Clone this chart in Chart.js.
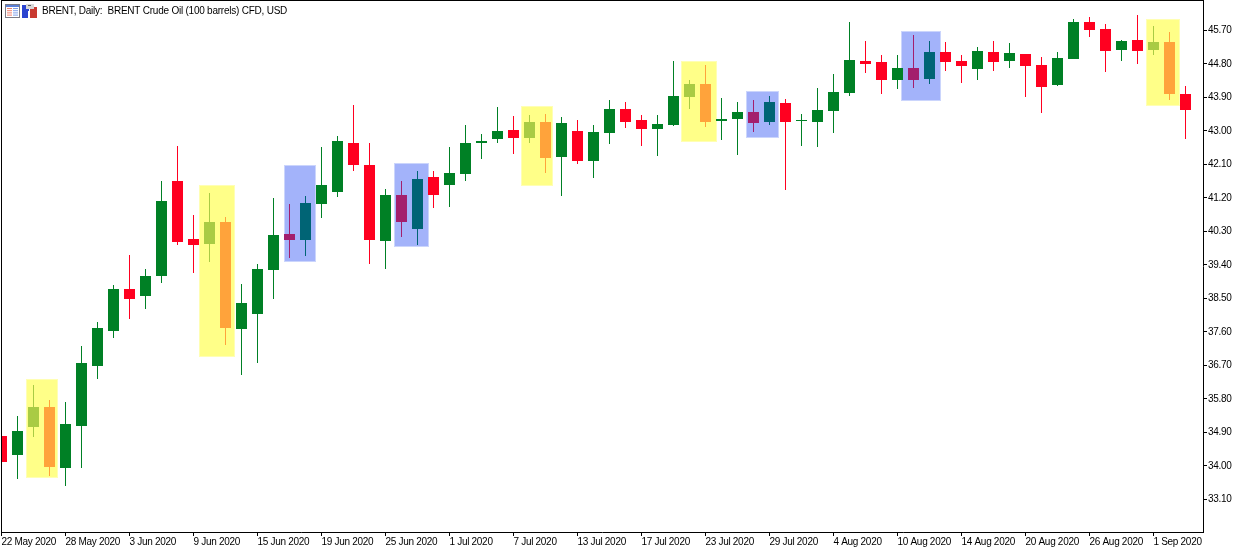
<!DOCTYPE html>
<html>
<head>
<meta charset="utf-8">
<title>BRENT Daily</title>
<script src="https://cdn.jsdelivr.net/npm/chart.js@4/dist/chart.umd.min.js"></script>
<style>
  html, body { margin: 0; padding: 0; background: #fff; }
  #wrap { width: 1236px; height: 549px; }
</style>
</head>
<body>
<div id="wrap"><canvas id="chart" width="1236" height="549"></canvas></div>
<script>
const TITLE = 'BRENT, Daily:  BRENT Crude Oil (100 barrels) CFD, USD';
const FONT = 'Liberation Sans';

const dates = [
  '22 May 2020', '25 May 2020', '26 May 2020', '27 May 2020', '28 May 2020', '29 May 2020',
  '1 Jun 2020', '2 Jun 2020', '3 Jun 2020', '4 Jun 2020', '5 Jun 2020',
  '8 Jun 2020', '9 Jun 2020', '10 Jun 2020', '11 Jun 2020', '12 Jun 2020',
  '15 Jun 2020', '16 Jun 2020', '17 Jun 2020', '18 Jun 2020', '19 Jun 2020',
  '22 Jun 2020', '23 Jun 2020', '24 Jun 2020', '25 Jun 2020', '26 Jun 2020',
  '29 Jun 2020', '30 Jun 2020', '1 Jul 2020', '2 Jul 2020', '3 Jul 2020',
  '6 Jul 2020', '7 Jul 2020', '8 Jul 2020', '9 Jul 2020', '10 Jul 2020',
  '13 Jul 2020', '14 Jul 2020', '15 Jul 2020', '16 Jul 2020', '17 Jul 2020',
  '20 Jul 2020', '21 Jul 2020', '22 Jul 2020', '23 Jul 2020', '24 Jul 2020',
  '27 Jul 2020', '28 Jul 2020', '29 Jul 2020', '30 Jul 2020', '31 Jul 2020',
  '3 Aug 2020', '4 Aug 2020', '5 Aug 2020', '6 Aug 2020', '7 Aug 2020',
  '10 Aug 2020', '11 Aug 2020', '12 Aug 2020', '13 Aug 2020', '14 Aug 2020',
  '17 Aug 2020', '18 Aug 2020', '19 Aug 2020', '20 Aug 2020', '21 Aug 2020',
  '24 Aug 2020', '25 Aug 2020', '26 Aug 2020', '27 Aug 2020', '28 Aug 2020',
  '31 Aug 2020', '1 Sep 2020', '2 Sep 2020', '3 Sep 2020'
];

const opens = [
  34.81, 34.30, 35.05, 35.58, 33.95, 35.07, 36.69, 37.63, 38.75, 38.57,
  39.10, 41.66, 40.10, 39.96, 40.56, 37.68, 38.08, 39.27, 40.23, 40.07,
  41.04, 41.36, 42.68, 42.09, 40.04, 41.28, 40.37, 41.76, 41.55, 41.84,
  42.68, 42.78, 43.03, 42.81, 43.24, 42.30, 43.00, 42.19, 42.95, 43.59,
  43.30, 43.05, 43.16, 43.91, 44.26, 43.27, 43.32, 43.51, 43.24, 43.75,
  43.27, 43.24, 43.54, 44.02, 44.88, 44.85, 44.37, 44.69, 44.40, 45.12,
  44.88, 44.67, 45.12, 44.88, 45.07, 44.77, 44.24, 44.93, 45.93, 45.74,
  45.18, 45.44, 45.18, 45.39, 43.99
];
const highs = [
  34.97, 35.34, 36.18, 35.77, 35.72, 37.22, 37.87, 38.86, 39.67, 39.29,
  41.66, 42.60, 40.74, 41.33, 40.69, 38.89, 39.43, 41.20, 41.04, 41.25,
  42.57, 42.87, 43.70, 42.68, 41.44, 41.66, 41.93, 41.93, 42.57, 43.16,
  42.92, 43.64, 43.40, 43.43, 43.46, 43.38, 43.30, 43.16, 43.83, 43.78,
  43.43, 43.43, 44.88, 44.37, 44.77, 43.89, 43.78, 43.83, 43.94, 43.86,
  43.46, 44.15, 44.53, 45.93, 45.42, 45.04, 45.04, 45.58, 45.42, 45.39,
  45.04, 45.26, 45.42, 45.36, 45.07, 44.99, 45.12, 46.01, 46.06, 45.87,
  45.44, 46.12, 45.82, 45.66, 44.21
];
const lows = [
  33.89, 33.65, 34.78, 33.73, 33.46, 33.95, 36.34, 37.44, 37.95, 38.22,
  38.92, 39.94, 39.18, 39.48, 37.25, 36.44, 36.77, 38.49, 39.59, 39.64,
  40.66, 41.23, 41.93, 39.43, 39.29, 40.15, 39.94, 40.93, 40.96, 41.66,
  42.25, 42.68, 42.38, 42.68, 41.87, 41.25, 42.11, 41.74, 42.65, 43.08,
  42.60, 42.33, 43.13, 43.59, 43.11, 42.76, 42.35, 42.97, 43.16, 41.41,
  42.60, 42.57, 42.95, 43.94, 44.56, 43.99, 44.13, 44.15, 44.26, 44.61,
  44.29, 44.37, 44.61, 44.69, 43.91, 43.48, 44.21, 44.93, 45.52, 44.58,
  44.88, 44.80, 45.04, 43.83, 42.78
];
const closes = [
  34.11, 34.94, 35.58, 33.97, 35.13, 36.77, 37.71, 38.75, 38.49, 39.10,
  41.12, 40.02, 39.94, 40.56, 37.71, 38.38, 39.29, 40.21, 40.07, 41.07,
  41.55, 42.73, 42.09, 40.07, 41.28, 40.56, 41.71, 41.28, 41.87, 42.68,
  42.73, 43.00, 42.81, 43.24, 42.27, 43.21, 42.19, 42.97, 43.59, 43.24,
  43.05, 43.19, 43.94, 44.26, 43.24, 43.32, 43.51, 43.21, 43.78, 43.24,
  43.30, 43.56, 44.05, 44.91, 44.80, 44.37, 44.69, 44.37, 45.12, 44.85,
  44.75, 45.15, 44.85, 45.10, 44.75, 44.18, 44.96, 45.93, 45.71, 45.15,
  45.42, 45.15, 45.39, 43.99, 43.56
];

const priceTicks = [33.10, 34.00, 34.90, 35.80, 36.70, 37.60, 38.50, 39.40, 40.30, 41.20, 42.10, 43.00, 43.90, 44.80, 45.70];

// marked patterns, x in bar units and y in price
const zoneKinds   = ['y', 'y', 'b', 'b', 'y', 'y', 'b', 'b', 'y'];
const zoneStarts  = [1.53, 12.34, 17.66, 24.53, 32.47, 42.47, 46.53, 56.22, 71.53];
const zoneEnds    = [3.53, 14.6, 19.66, 26.72, 34.47, 44.72, 48.59, 58.72, 73.66];
const zoneTops    = [36.34, 41.55, 42.09, 42.14, 43.67, 44.88, 44.07, 45.69, 46.01];
const zoneBottoms = [33.68, 36.93, 39.48, 39.88, 41.52, 42.70, 42.81, 43.81, 43.67];

const UP = '#008025', DOWN = '#ff0020';
const ZONE = {
  y: { fill: '#ffff88', edge: '#ffffb4', up: '#a9cb44', down: '#ffa33b' },
  b: { fill: '#a3b3fa', edge: '#cbd5fc', up: '#006475', down: '#a31f6d' }
};

function candleColor(i) {
  const up = closes[i] >= opens[i];
  const z = zoneStarts.findIndex((s, k) => i > s && i < zoneEnds[k]);
  if (z < 0) return up ? UP : DOWN;
  return up ? ZONE[zoneKinds[z]].up : ZONE[zoneKinds[z]].down;
}

const colors = dates.map((d, i) => candleColor(i));
const bodies = dates.map((d, i) => ({ x: i, y: [opens[i], closes[i]] }));
const wicks = dates.map((d, i) => ({ x: i, y: [lows[i], highs[i]] }));

// terminal-style crisp candles: keep bar edges on whole pixels
const snapBars = {
  id: 'snapBars',
  afterDatasetsUpdate(chart) {
    chart.getSortedVisibleDatasetMetas().forEach(meta => {
      meta.data.forEach(el => {
        el.y = Math.round(el.y);
        el.base = Math.round(el.base);
      });
    });
  }
};

// tighter tracking so 10px labels keep the narrow terminal text width
const tightText = {
  id: 'tightText',
  beforeDraw(chart) {
    chart.ctx.letterSpacing = '-0.3px';
  }
};

const zones = {
  id: 'zones',
  beforeDatasetsDraw(chart) {
    const { ctx, scales: { x, y } } = chart;
    ctx.save();
    zoneKinds.forEach((k, i) => {
      const l = Math.round(x.getPixelForValue(zoneStarts[i]));
      const r = Math.round(x.getPixelForValue(zoneEnds[i]));
      const t = Math.round(y.getPixelForValue(zoneTops[i]));
      const b = Math.round(y.getPixelForValue(zoneBottoms[i]));
      ctx.fillStyle = ZONE[k].fill;
      ctx.fillRect(l, t, r - l, b - t);
      ctx.strokeStyle = ZONE[k].edge;
      ctx.lineWidth = 1;
      ctx.strokeRect(l + 0.5, t + 0.5, r - l - 1, b - t - 1);
    });
    ctx.restore();
  }
};

// top and left frame lines, window title and its two small icons
const header = {
  id: 'header',
  afterDraw(chart) {
    const { ctx, chartArea: a } = chart;
    ctx.save();
    ctx.fillStyle = '#000';
    ctx.fillRect(a.left, 0, a.right - a.left + 1, 1);
    ctx.fillRect(a.left, 0, 1, a.bottom - 0);

    ctx.fillStyle = '#7b7b86';
    ctx.fillRect(5, 4, 15, 14);
    ctx.fillStyle = '#5b7fd6';
    ctx.fillRect(6, 5, 13, 2);
    ctx.fillStyle = '#fff';
    ctx.fillRect(6, 7, 13, 10);
    for (let i = 0; i < 4; i++) {
      ctx.fillStyle = '#f0806e';
      ctx.fillRect(7, 8 + i * 2.2, 5, 1);
      ctx.fillStyle = '#7fa0ea';
      ctx.fillRect(13, 8 + i * 2.2, 5, 1);
    }

    ctx.fillStyle = '#2b44d0';
    ctx.fillRect(22, 5, 7, 13);
    ctx.fillStyle = '#c93a30';
    ctx.fillRect(30, 7, 7, 11);
    ctx.fillStyle = '#d8d8d8';
    ctx.fillRect(26, 4, 8, 5);
    ctx.fillStyle = '#5a5a5a';
    ctx.fillRect(28, 5, 3, 1);
    ctx.fillStyle = '#fff';
    ctx.fillRect(28, 11, 2, 7);

    ctx.fillStyle = '#000';
    ctx.font = '10px "' + FONT + '"';
    ctx.letterSpacing = '-0.23px';
    ctx.textBaseline = 'alphabetic';
    ctx.fillText(TITLE, 42, 14);
    ctx.restore();
  }
};

new Chart(document.getElementById('chart'), {
  type: 'bar',
  data: {
    datasets: [
      { label: 'Body', data: bodies, backgroundColor: colors, borderWidth: 0, inflateAmount: 0,
        grouped: false, barPercentage: 1, categoryPercentage: 1, maxBarThickness: 11 },
      { label: 'Wick', data: wicks, backgroundColor: colors, borderWidth: 0, inflateAmount: 0,
        grouped: false, barPercentage: 1, categoryPercentage: 1, maxBarThickness: 1 }
    ]
  },
  plugins: [tightText, snapBars, zones, header],
  options: {
    responsive: false,
    animation: false,
    layout: { padding: { left: 1, top: 0, right: 0, bottom: 0 } },
    plugins: { legend: { display: false }, tooltip: { enabled: false }, title: { display: false } },
    scales: {
      x: {
        type: 'linear',
        offset: false,
        min: -0.03125,
        max: 75.09375,
        border: { color: '#000', width: 1 },
        grid: { offset: false, drawOnChartArea: false, color: '#000', tickLength: 4 },
        ticks: {
          autoSkip: false, maxRotation: 0, minRotation: 0, align: 'start', padding: 0,
          color: '#000', font: { family: FONT, size: 10 },
          callback: v => dates[v]
        },
        afterBuildTicks(scale) {
          scale.ticks = dates.map((d, i) => ({ value: i })).filter(t => t.value % 4 === 0);
        },
        afterFit(scale) {
          scale.height = 17;
          scale.paddingLeft = 0;
          scale.paddingRight = 0;
        }
      },
      y: {
        position: 'right',
        min: 32.22,
        max: 46.52,
        border: { color: '#000', width: 1 },
        grid: { drawOnChartArea: false, color: '#000', tickLength: 4 },
        ticks: {
          autoSkip: false, padding: 1,
          color: '#000', font: { family: FONT, size: 10 },
          callback: v => v.toFixed(2)
        },
        afterBuildTicks(scale) {
          scale.ticks = priceTicks.map(v => ({ value: v }));
        },
        afterFit(scale) {
          scale.width = 33;
          scale.paddingTop = 0;
          scale.paddingBottom = 0;
        }
      }
    }
  }
});
</script>
</body>
</html>
